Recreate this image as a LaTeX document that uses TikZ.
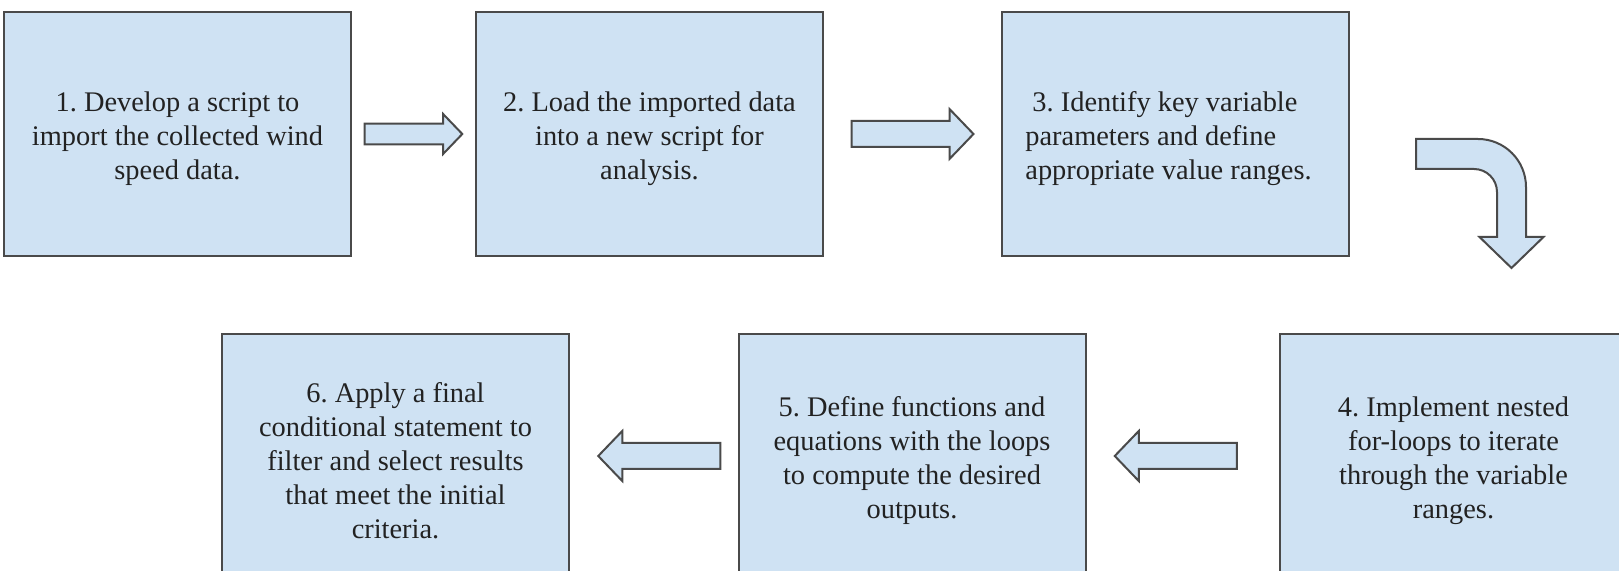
\documentclass[tikz,border=0pt]{standalone}
\usepackage{fontspec}
\setmainfont{Liberation Serif}
\frenchspacing
\usetikzlibrary{calc}
\definecolor{stepblue}{HTML}{CFE2F3}
\definecolor{stepedge}{HTML}{4A4A4A}
\definecolor{steptext}{HTML}{222222}
% taller first line pushes the text block a little lower in its box
\newcommand{\stepstrut}{\rule{0pt}{15pt}}

\begin{document}
\begin{tikzpicture}[x=0.5pt,y=-0.5pt,
    stepbox/.style={shape=rectangle, draw=stepedge, fill=stepblue, line width=1pt,
      minimum width=173.5pt, minimum height=122pt, inner sep=0pt, align=center,
      text=steptext, font=\fontsize{14.2}{17}\selectfont},
    arrowfill/.style={draw=stepedge, fill=stepblue, line width=1pt},
    blockarrow/.pic={\draw[arrowfill] (-61,-13) -- (37,-13) -- (37,-25) -- (61,0) -- (37,25) -- (37,13) -- (-61,13) -- cycle;}]
    \useasboundingbox (0,0) rectangle (1619,571);
    \clip (0,0) rectangle (1619,571);

    % top row
    \node[stepbox] (s1) at (177.5,134) {\stepstrut 1. Develop a script to\\import the collected wind\\speed data.};
    \node[stepbox] (s2) at (649.5,134) {\stepstrut 2. Load the imported data\\into a new script for\\analysis.};
    \node[stepbox,align=left] (s3) at (1175.5,134) {\stepstrut\hspace*{.25em}3. Identify key variable\\parameters and define\\appropriate value ranges.\hspace*{7pt}};

    % bottom row, runs right to left
    \node[stepbox] (s4) at (1453.5,456) {\stepstrut 4. Implement nested\\for-loops to iterate\\through the variable\\ranges.};
    \node[stepbox] (s5) at (912,456) {\stepstrut 5. Define functions and\\equations with the loops\\to compute the desired\\outputs.};
    \node[stepbox] (s6) at (395.5,456) {\stepstrut 6. Apply a final\\conditional statement to\\filter and select results\\that meet the initial\\criteria.};

    \pic[scale=0.8] at ($(s1.east)!0.5!(s2.west)$) {blockarrow};
    \pic at ($(s2.east)!0.5!(s3.west)$) {blockarrow};
    \pic[rotate=180] at ($(s4.west)!0.5!(s5.east)+(-7,0)$) {blockarrow};
    \pic[rotate=180] at ($(s5.west)!0.5!(s6.east)+(5.5,0)$) {blockarrow};

    % bent arrow from step 3 down to step 4
    \draw[arrowfill] (1416,139) -- (1478,139) .. controls (1504.5,139) and (1526,160.5) .. (1526,187)
      -- (1526,237) -- (1543.5,237) -- (1511.5,268) -- (1479.5,237) -- (1497,237) -- (1497,192)
      .. controls (1497,179.3) and (1486.7,169) .. (1474,169) -- (1416,169) -- cycle;
\end{tikzpicture}
\end{document}
